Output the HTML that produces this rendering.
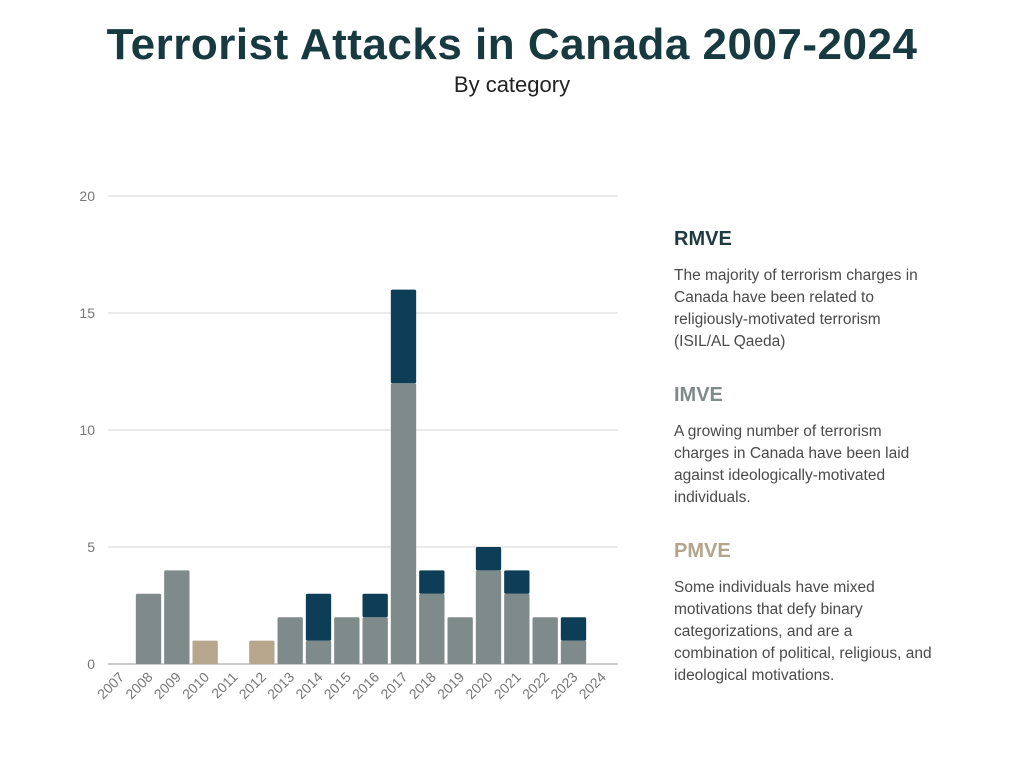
<!DOCTYPE html>
<html><head><meta charset="utf-8"><style>
body{margin:0;width:1024px;height:768px;background:#fff;font-family:"Liberation Sans",sans-serif;overflow:hidden;position:relative}
h1{position:absolute;top:20px;left:0;width:1024px;text-align:center;margin:0;font-size:44px;font-weight:bold;color:#163a3f;letter-spacing:0.5px}
.sub{position:absolute;top:72px;left:0;width:1024px;text-align:center;font-size:22px;color:#222}
.side{position:absolute;left:674px;width:320px}
.side h3{margin:0;font-size:20px;font-weight:bold}
.side p{margin:14px 0 0;font-size:15.5px;line-height:22px;color:#4a4a4a;white-space:nowrap}
</style></head><body>
<h1>Terrorist Attacks in Canada 2007-2024</h1>
<div class="sub">By category</div>
<svg id="chart" width="1024" height="768" style="position:absolute;left:0;top:0"></svg>
<div class="side" style="top:228px"><h3 style="color:#1d3a40">RMVE</h3><p>The majority of terrorism charges in<br>Canada have been related to<br>religiously-motivated terrorism<br>(ISIL/AL Qaeda)</p></div>
<div class="side" style="top:384px"><h3 style="color:#7f8a8a">IMVE</h3><p>A growing number of terrorism<br>charges in Canada have been laid<br>against ideologically-motivated<br>individuals.</p></div>
<div class="side" style="top:540px"><h3 style="color:#b3a58b">PMVE</h3><p>Some individuals have mixed<br>motivations that defy binary<br>categorizations, and are a<br>combination of political, religious, and<br>ideological motivations.</p></div>
<script>
const years=["2007","2008","2009","2010","2011","2012","2013","2014","2015","2016","2017","2018","2019","2020","2021","2022","2023","2024"];
const imve=[0,3,4,0,0,0,2,1,2,2,12,3,2,4,3,2,1,0];
const rmve=[0,0,0,0,0,0,0,2,0,1,4,1,0,1,1,0,1,0];
const pmve=[0,0,0,1,0,1,0,0,0,0,0,0,0,0,0,0,0,0];
const yTicks=[0,5,10,15,20];
const svg=document.getElementById('chart');const NS='http://www.w3.org/2000/svg';
const x0=108,x1=618,y0=664,yTop=196,ymax=20;
const slot=(x1-x0)/years.length;
const y=v=>y0-(v/ymax)*(y0-yTop);
const xs=i=>x0+i*slot;
function mk(t,a){const e=document.createElementNS(NS,t);for(const k in a)e.setAttribute(k,a[k]);svg.appendChild(e);return e;}
yTicks.forEach(t=>{
 const l=mk('line',{x1:x0,x2:x1,y1:y(t),y2:y(t),stroke:t===0?'#999':'#d6d6d6','stroke-width':1});
 
 
 const tx=mk('text',{x:95,y:y(t)+5,'text-anchor':'end','font-size':14,fill:'#777','font-family':'Liberation Sans'});
 tx.textContent=t;
 
 
});
function bar(i,b,v,c,n){if(!v)return;const r=mk('rect',{x:xs(i)-0.5,y:y(b+v),width:slot-3,height:y(b)-y(b+v),fill:c,rx:1.5});
 
 }
years.forEach((yr,i)=>{
 bar(i,0,imve[i],'#7f8b8b','bar-imve');
 bar(i,imve[i],rmve[i],'#0e3e57','bar-rmve');
 bar(i,imve[i]+rmve[i],pmve[i],'#b6a68c','bar-pmve');
 const cx=xs(i)+slot/2+3,cy=y0+14;
 const t=mk('text',{x:cx,y:cy,'text-anchor':'end','font-size':14,fill:'#777','font-family':'Liberation Sans',transform:`rotate(-45 ${cx} ${cy})`});
 t.textContent=yr;
 
 
});
</script>
</body></html>
